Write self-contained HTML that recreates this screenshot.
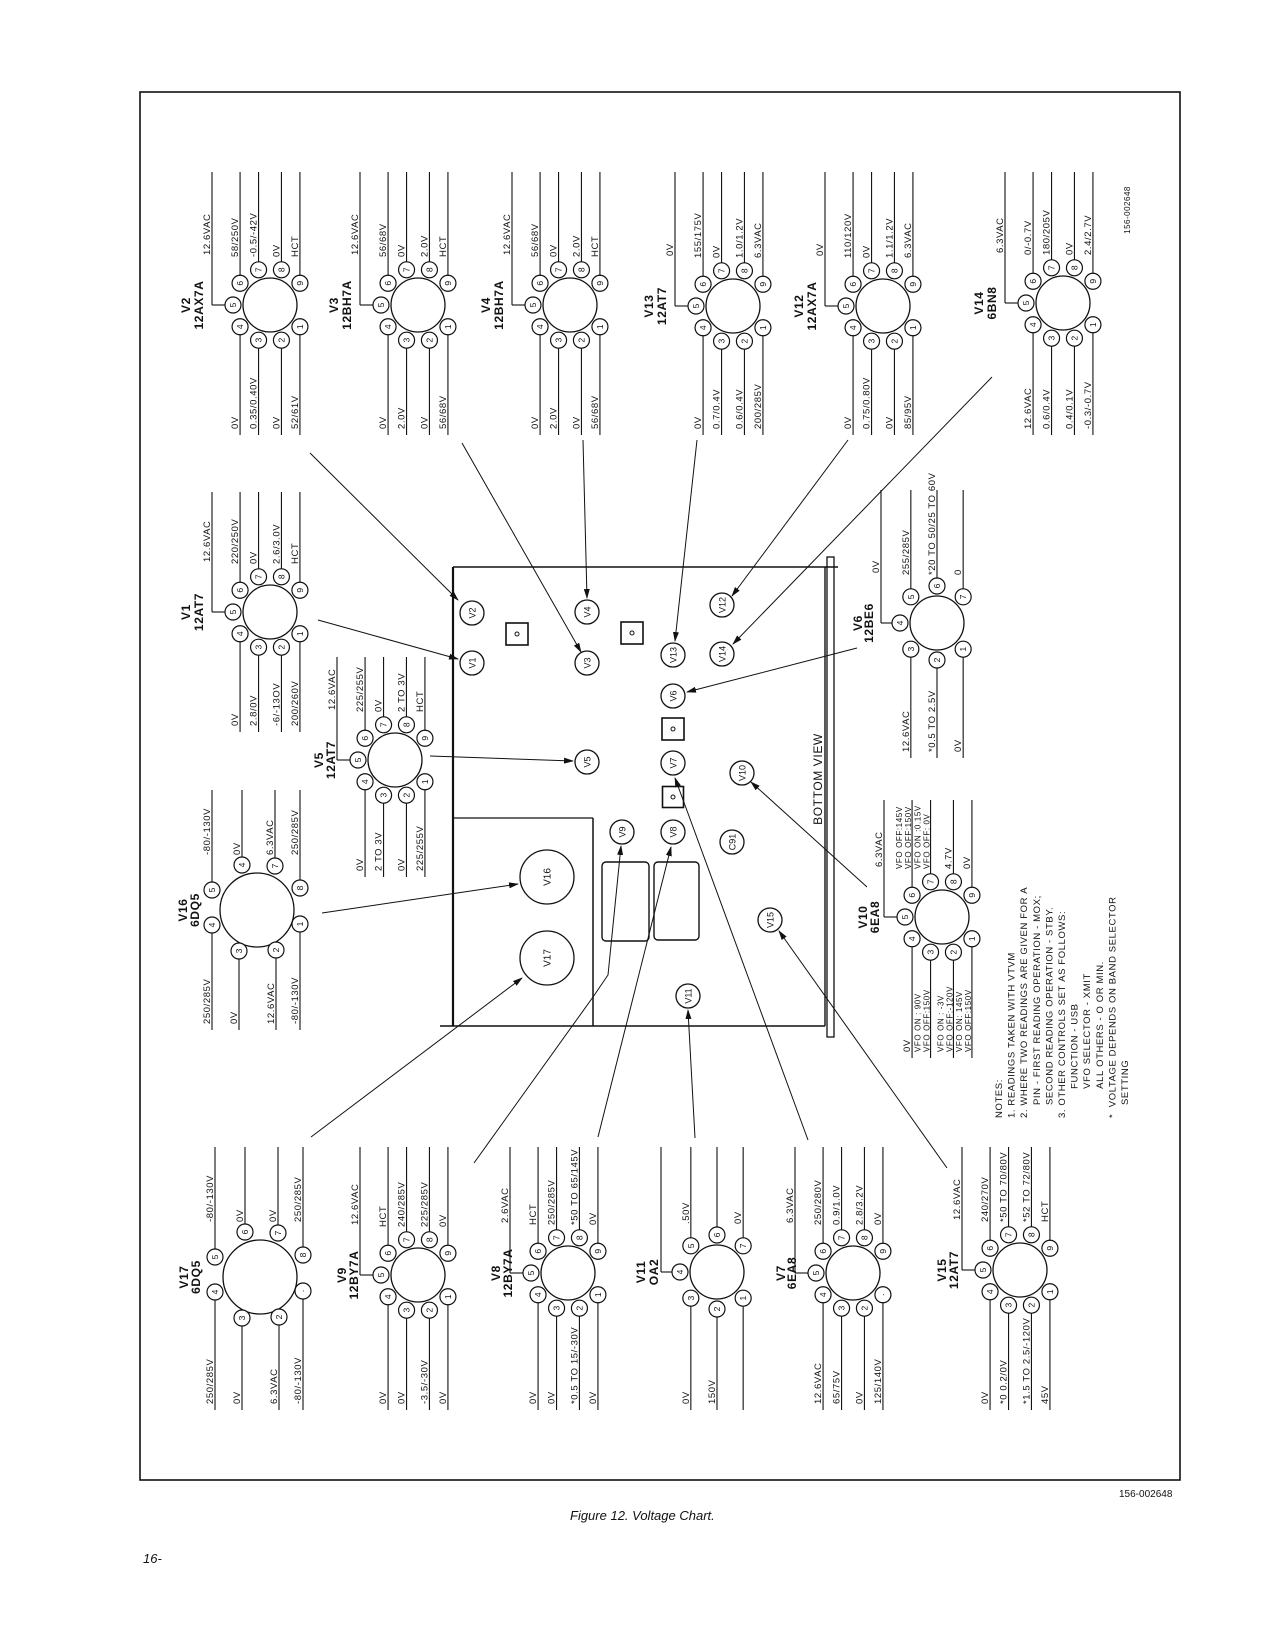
<!DOCTYPE html>
<html><head><meta charset="utf-8"><style>
html,body{margin:0;padding:0;background:#fff;}
svg{display:block;}
text{font-family:"Liberation Sans",sans-serif;fill:#111;}
</style></head><body>
<svg id="s" xmlns="http://www.w3.org/2000/svg" width="1275" height="1650" viewBox="0 0 1275 1650">
<defs><marker id="a" markerWidth="10" markerHeight="6" refX="9" refY="3" orient="auto" markerUnits="userSpaceOnUse"><path d="M0,0 L10,3 L0,6z" fill="#111"/></marker></defs>
<rect x="140" y="92" width="1040" height="1388" fill="none" stroke="#111" stroke-width="1.6"/>
<text x="1119" y="1497" font-size="10" style="font-family:'Liberation Sans Narrow','Liberation Sans',sans-serif">156-002648</text>
<text x="570" y="1520" font-size="13" font-style="italic">Figure 12.  Voltage Chart.</text>
<text x="143" y="1563" font-size="13" font-style="italic">16-</text>
<text transform="translate(1130,210) rotate(-90)" font-size="8" text-anchor="middle" letter-spacing="0.5">156-002648</text>
</svg>
<script>
var s=document.getElementById('s'),h='';
function L(a,b,c,d,w,m){h+='<line x1="'+a+'" y1="'+b+'" x2="'+c+'" y2="'+d+'" stroke="#111" stroke-width="'+(w||1.1)+'"'+(m?' marker-end="url(#a)"':'')+'/>';}
function PL(p,m){h+='<polyline points="'+p+'" fill="none" stroke="#111" stroke-width="1" '+(m?'marker-end="url(#a)"':'')+'/>';}
function C(x,y,r,w){h+='<circle cx="'+x+'" cy="'+y+'" r="'+r+'" fill="#fff" stroke="#111" stroke-width="'+(w||1.2)+'"/>';}
function T(x,y,t,fs,anc,extra){h+='<text transform="translate('+x+','+y+') rotate(-90)" font-size="'+fs+'" text-anchor="'+(anc||'start')+'" letter-spacing="0.6" '+(extra||'')+'>'+t+'</text>';}
function TC(x,y,t,fs){h+='<text transform="translate('+x+','+y+') rotate(-90)" font-size="'+fs+'" text-anchor="middle" dy="0.36em">'+t+'</text>';}
var A9={5:180,6:216,7:252,8:288,9:324,1:36,2:72,3:108,4:144};
var A7={4:180,5:225,6:270,7:315,1:45,2:90,3:135};
var O8={5:[-45,-20],6:[-15,-45],7:[18,-44],8:[43,-22],1:[43,14],2:[19,40],3:[-18,41],4:[-45,15]};
function lab(x,y,t,fs){
  if(Array.isArray(t)){T(x-10,y,t[0],fs-1.5);T(x-1,y,t[1],fs-1.5);}
  else if(t)T(x-2,y,t,fs);
}
function tube(o){
  var cx=o.cx,cy=o.cy,pos={},R=o.type=='8'?0:37,up,dn,el,mr;
  if(o.type=='9'){for(var k in A9){var a=A9[k]*Math.PI/180;pos[k]=[cx+R*Math.cos(a),cy+R*Math.sin(a)];}up=[5,6,7,8,9];dn=[4,3,2,1];el=5;mr=27;}
  else if(o.type=='7'){for(var k in A7){var a=A7[k]*Math.PI/180;pos[k]=[cx+R*Math.cos(a),cy+R*Math.sin(a)];}up=[4,5,6,7];dn=[3,2,1];el=4;mr=27;}
  else{for(var k in O8)pos[k]=[cx+O8[k][0],cy+O8[k][1]];up=[5,6,7,8];dn=[4,3,2,1];el=null;mr=37;}
  var fs=9.5;
  up.forEach(function(p,i){
    var q=pos[p];
    if(p===el){var ex=cx-(o.type=='7'?56:58);L(q[0]-8,q[1],ex,q[1]);L(ex,q[1],ex,o.top);lab(ex,cy-50,o.up[i],fs);}
    else{L(q[0],q[1]-8,q[0],o.top);lab(q[0],cy-(o.type=='8'?55:48),o.up[i],fs);}
  });
  dn.forEach(function(p,i){var q=pos[p];L(q[0],q[1]+8,q[0],o.bot);lab(q[0],o.bot-6,o.dn[i],fs);});
  C(cx,cy,mr,1.3);
  for(var k in pos){C(pos[k][0],pos[k][1],8,1.2);TC(pos[k][0],pos[k][1],(o.pn&&o.pn[k])||k,8.5);}
  var n1=o.nx||-80,n2=o.nx2||-67;
  T(cx+n1,cy,o.name,12,'middle','font-weight="bold"');T(cx+n2,cy,o.model,12,'middle','font-weight="bold"');
}
// top row
tube({cx:270,cy:305,type:'9',name:'V2',model:'12AX7A',top:172,bot:435,up:['12.6VAC','58/250V','-0.5/-42V','0V','HCT'],dn:['0V','0.35/0.40V','0V','52/61V']});
tube({cx:418,cy:305,type:'9',name:'V3',model:'12BH7A',top:172,bot:435,up:['12.6VAC','56/68V','0V','2.0V','HCT'],dn:['0V','2.0V','0V','56/68V']});
tube({cx:570,cy:305,type:'9',name:'V4',model:'12BH7A',top:172,bot:435,up:['12.6VAC','56/68V','0V','2.0V','HCT'],dn:['0V','2.0V','0V','56/68V']});
tube({cx:733,cy:306,type:'9',name:'V13',model:'12AT7',top:172,bot:435,up:['0V','155/175V','0V','1.0/1.2V','6.3VAC'],dn:['0V','0.7/0.4V','0.6/0.4V','200/285V']});
tube({cx:883,cy:306,type:'9',name:'V12',model:'12AX7A',top:172,bot:435,up:['0V','110/120V','0V','1.1/1.2V','6.3VAC'],dn:['0V','0.75/0.80V','0V','85/95V']});
tube({cx:1063,cy:303,type:'9',name:'V14',model:'6BN8',top:172,bot:435,up:['6.3VAC','0/-0.7V','180/205V','0V','2.4/2.7V'],dn:['12.6VAC','0.6/0.4V','0.4/0.1V','-0.3/-0.7V']});
// middle
tube({cx:270,cy:612,type:'9',name:'V1',model:'12AT7',top:492,bot:732,up:['12.6VAC','220/250V','0V','2.6/3.0V','HCT'],dn:['0V','2.8/0V','-6/-13OV','200/260V']});
tube({cx:395,cy:760,type:'9',name:'V5',model:'12AT7',top:657,bot:877,nx:-72,nx2:-60,up:['12.6VAC','225/255V','0V','2 TO 3V','HCT'],dn:['0V','2 TO 3V','0V','225/255V']});
tube({cx:257,cy:910,type:'8',name:'V16',model:'6DQ5',top:790,bot:1030,nx:-70,nx2:-58,pn:{5:'5',6:'4',7:'7',8:'8',1:'1',2:'2',3:'3',4:'4'},up:['-80/-130V','0V','6.3VAC','250/285V'],dn:['250/285V','0V','12.6VAC','-80/-130V']});
tube({cx:937,cy:623,type:'7',name:'V6',model:'12BE6',top:490,bot:758,nx:-75,nx2:-64,up:['0V','255/285V','*20 TO 50/25 TO 60V','0'],dn:['12.6VAC','*0.5 TO 2.5V','0V']});
tube({cx:942,cy:917,type:'9',name:'V10',model:'6EA8',top:800,bot:1058,nx:-75,nx2:-63,up:['6.3VAC',['VFO OFF:145V','VFO OFF:150V'],['VFO ON :0.15V','VFO OFF: 0V'],'4.7V','0V'],dn:['0V',['VFO ON : 90V','VFO OFF:150V'],['VFO ON : -3V','VFO OFF:-120V'],['VFO ON: 145V','VFO OFF:150V']]});
// bottom row
tube({cx:260,cy:1277,type:'8',name:'V17',model:'6DQ5',top:1147,bot:1410,nx:-72,nx2:-60,pn:{1:'·'},up:['-80/-130V','0V','0V','250/285V'],dn:['250/285V','0V','6.3VAC','-80/-130V']});
tube({cx:418,cy:1275,type:'9',name:'V9',model:'12BY7A',top:1147,bot:1410,nx:-72,nx2:-60,up:['12.6VAC','HCT','240/285V','225/285V','0V'],dn:['0V','0V','-3.5/-30V','0V']});
tube({cx:568,cy:1273,type:'9',name:'V8',model:'12BY7A',top:1147,bot:1410,nx:-68,nx2:-56,up:['2.6VAC','HCT','250/285V','*50 TO 65/145V','0V'],dn:['0V','0V','*0.5 TO 15/-30V','0V']});
tube({cx:717,cy:1272,type:'7',name:'V11',model:'OA2',top:1147,bot:1410,nx:-72,nx2:-59,up:['','.50V','','0V'],dn:['0V','150V','']});
tube({cx:853,cy:1273,type:'9',name:'V7',model:'6EA8',top:1147,bot:1410,nx:-68,nx2:-57,pn:{1:'·'},up:['6.3VAC','250/280V','0.9/1.0V','2.8/3.2V','0V'],dn:['12.6VAC','65/75V','0V','125/140V']});
tube({cx:1020,cy:1270,type:'9',name:'V15',model:'12AT7',top:1147,bot:1410,nx:-74,nx2:-62,up:['12.6VAC','240/270V','*50 TO 70/80V','*52 TO 72/80V','HCT'],dn:['0V','*0 0.2/0V','*1.5 TO 2.5/-120V','45V']});
// chassis
L(453,567,838,567,1.4);L(453,567,453,1026,2.2);L(440,1026,825,1026,1.4);L(825,567,825,1026,1.4);
h+='<rect x="827" y="557" width="7" height="480" fill="none" stroke="#111" stroke-width="1.3"/>';
L(453,818,593,818,1.3);L(593,818,593,1026,1.5);
h+='<rect x="602" y="862" width="47" height="79" rx="4" fill="none" stroke="#111" stroke-width="1.4"/>';
h+='<rect x="654" y="862" width="45" height="78" rx="4" fill="none" stroke="#111" stroke-width="1.4"/>';
[[517,634,22],[632,633,22],[673,729,22],[673,797,21]].forEach(function(q){h+='<rect x="'+(q[0]-q[2]/2)+'" y="'+(q[1]-q[2]/2)+'" width="'+q[2]+'" height="'+q[2]+'" fill="#fff" stroke="#111" stroke-width="1.6"/>';h+='<circle cx="'+q[0]+'" cy="'+q[1]+'" r="2" fill="none" stroke="#111"/>';});
T(822,779,'BOTTOM VIEW',12,'middle','letter-spacing="1.5"');
// leaders
L(310,453,458,600,1,1);L(462,443,581,652,1,1);L(583,440,587,598,1,1);
L(697,440,675,641,1,1);L(848,440,732,596,1,1);L(992,377,733,644,1,1);
L(318,620,458,659,1,1);L(430,756,573,761,1,1);L(322,913,518,884,1,1);
L(857,648,687,692,1,1);L(867,887,751,782,1,1);L(311,1137,522,978,1,1);
PL('474,1163 593,997 608,975 621,846',1);L(598,1137,671,847,1,1);
L(695,1138,688,1010,1,1);L(808,1140,675,778,1,1);L(947,1168,779,931,1,1);
// chassis tube circles
[[472,613,'V2'],[472,663,'V1'],[587,612,'V4'],[587,663,'V3'],[673,655,'V13'],[722,605,'V12'],[722,654,'V14'],[673,696,'V6'],[673,763,'V7'],[587,762,'V5'],[742,773,'V10'],[622,832,'V9'],[673,832,'V8'],[732,842,'C91'],[770,920,'V15'],[688,996,'V11']].forEach(function(q){C(q[0],q[1],12,1.3);TC(q[0],q[1],q[2],9);});
C(547,877,27,1.3);TC(547,877,'V16',10);C(547,958,27,1.3);TC(547,958,'V17',10);
// notes
var notes=['NOTES:','1. READINGS TAKEN WITH VTVM','2. WHERE TWO READINGS ARE GIVEN FOR A','    PIN - FIRST READING OPERATION - MOX;','    SECOND READING OPERATION - STBY.','3. OTHER CONTROLS SET AS FOLLOWS:','         FUNCTION - USB','         VFO SELECTOR - XMIT','         ALL OTHERS - O OR MIN.','*  VOLTAGE DEPENDS ON BAND SELECTOR','    SETTING'];
notes.forEach(function(t,i){T(1002+i*12.6,1118,t.replace(/ /g,'\u00a0'),9.5);});
s.insertAdjacentHTML('beforeend',h);
</script>
</body></html>
